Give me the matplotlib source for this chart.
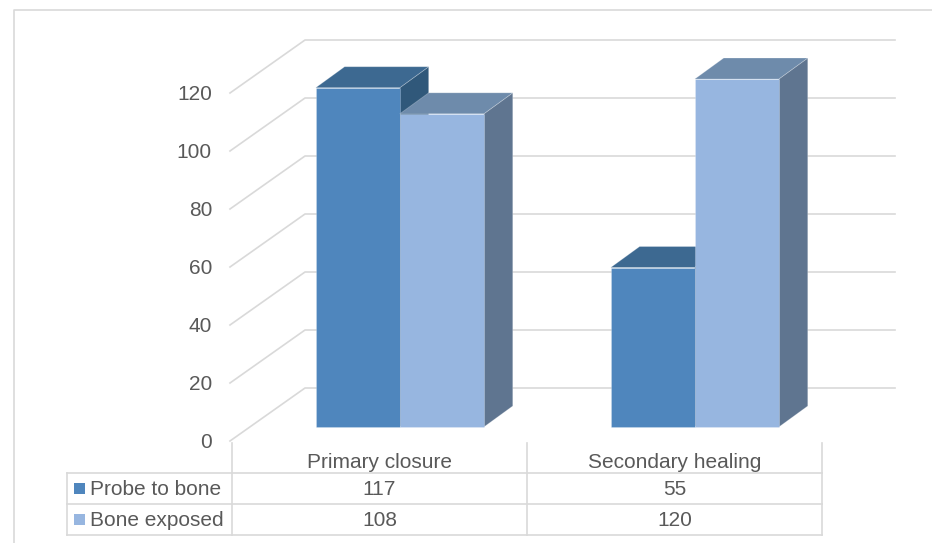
import matplotlib.pyplot as plt
from matplotlib.patches import Polygon, Rectangle

plt.rcParams['font.family'] = ['Liberation Sans', 'DejaVu Sans']

categories = ["Primary closure", "Secondary healing"]
series = ["Probe to bone", "Bone exposed"]
probe_to_bone = [117, 55]
bone_exposed = [108, 120]
values = [probe_to_bone, bone_exposed]
yticks = [0, 20, 40, 60, 80, 100, 120]

# colours per series: front, top, side
faces = [
    ("#4f86bd", "#3d6991", "#30587a"),
    ("#97b6e0", "#6e8bab", "#5f7590"),
]
grid_c = "#d9d9d9"
text_c = "#595959"

# layout of the oblique 3D box, in pixels
X0, X1 = 232, 822          # front plane, left/right
Y0 = 441                   # front plane, value 0
YMAX = 120
PPU = (Y0 - 93) / YMAX     # pixels per unit
DX, DY = 73, -53           # offset of back wall from front plane
BAR_D0, BAR_D1 = 0.264, 0.66
BAR_W = 0.285

def proj(x, v, d):
    return (x + d * DX, Y0 - v * PPU + d * DY)

fig = plt.figure(figsize=(9.32, 5.43), dpi=100)
ax = fig.add_axes([0, 0, 1, 1])
ax.set_xlim(0, 932)
ax.set_ylim(543, 0)
ax.axis("off")

# outer chart frame
ax.plot([14, 14, 932], [543, 10, 10], color=grid_c, lw=1.2)

# gridlines on back wall and side wall
for t in yticks:
    xa, ya = proj(X0, t, 0)
    xb, yb = proj(X0, t, 1)
    xc, yc = proj(X1, t, 1)
    ax.plot([xa - 2, xb, xc], [ya, yb, yc], color=grid_c, lw=1.2, zorder=1)
    ax.text(212, ya + 2, str(t), ha="right", va="center", fontsize=15, color=text_c)

# bars
slot = (X1 - X0) / len(categories)
for ci in range(len(categories)):
    center = X0 + slot * (ci + 0.5) + 1
    for si in range(len(series)):
        v = values[si][ci]
        front, top, side = faces[si]
        xl = center + (si - 1) * BAR_W * slot
        xr = xl + BAR_W * slot
        f = [proj(xl, 0, BAR_D0), proj(xr, 0, BAR_D0), proj(xr, v, BAR_D0), proj(xl, v, BAR_D0)]
        tp = [proj(xl, v, BAR_D0), proj(xr, v, BAR_D0), proj(xr, v, BAR_D1), proj(xl, v, BAR_D1)]
        sd = [proj(xr, 0, BAR_D0), proj(xr, 0, BAR_D1), proj(xr, v, BAR_D1), proj(xr, v, BAR_D0)]
        for pts, col in ((sd, side), (tp, top), (f, front)):
            ax.add_patch(Polygon(pts, closed=True, facecolor=col,
                                 edgecolor=(1, 1, 1, 0.25), lw=0.6, zorder=3))

# data table
row_y = [473, 504, 535]
for ry in row_y:
    ax.plot([67, X1], [ry, ry], color=grid_c, lw=1.2)
ax.plot([67, 67], [row_y[0], row_y[2]], color=grid_c, lw=1.2)
for k in range(len(categories) + 1):
    xv = X0 + slot * k
    ax.plot([xv, xv], [443, row_y[2]], color=grid_c, lw=1.2)

for ci, cat in enumerate(categories):
    cx = X0 + slot * (ci + 0.5)
    ax.text(cx, 462, cat, ha="center", va="center", fontsize=15, color=text_c)
    for si in range(len(series)):
        ry = (row_y[si] + row_y[si + 1]) / 2
        ax.text(cx, ry + 1, str(values[si][ci]), ha="center", va="center",
                fontsize=15, color=text_c)

for si, name in enumerate(series):
    ry = (row_y[si] + row_y[si + 1]) / 2
    ax.add_patch(Rectangle((74, ry - 5.5), 11, 11, facecolor=faces[si][0], edgecolor="none"))
    ax.text(90, ry + 1, name, ha="left", va="center", fontsize=15, color=text_c)

fig.savefig("out.png", dpi=100)
